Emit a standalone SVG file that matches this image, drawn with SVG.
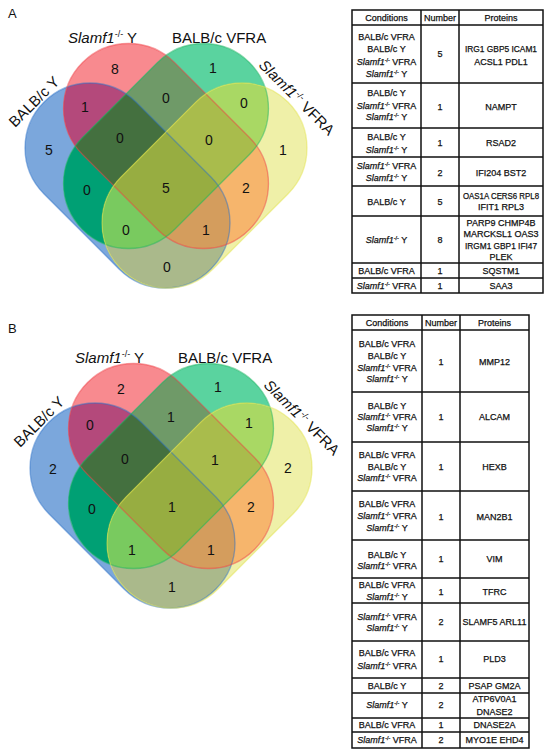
<svg xmlns="http://www.w3.org/2000/svg" xmlns:xlink="http://www.w3.org/1999/xlink" width="550" height="755" viewBox="0 0 550 755">
<style>
.t{font-family:"Liberation Sans",Arial,sans-serif;font-size:9px;text-anchor:middle;fill:#111;stroke:#111;stroke-width:0.25}
.i{font-style:italic}
.s{font-size:5.5px}
.n{font-family:"Liberation Sans",Arial,sans-serif;font-size:14px;text-anchor:middle;fill:#111}
.lb{font-family:"Liberation Sans",Arial,sans-serif;font-size:15px;fill:#111}
.vs{font-size:9px}
.pl{font-family:"Liberation Sans",Arial,sans-serif;font-size:13px;fill:#111}
.grid{fill:none;stroke:#111;stroke-width:1.5}
.ob{fill:none;stroke-width:1.3;stroke-opacity:0.5}
</style>
<defs>
<rect id="sB" x="-118" y="-65" width="236" height="130" rx="65" transform="translate(127.5,185.5) rotate(45)"/>
<rect id="sR" x="-118" y="-65" width="236" height="130" rx="65" transform="translate(166,146) rotate(45)"/>
<rect id="sG" x="-118" y="-65" width="236" height="130" rx="65" transform="translate(166,146) rotate(-45)"/>
<rect id="sY" x="-118" y="-65" width="236" height="130" rx="65" transform="translate(204.5,185.5) rotate(-45)"/>
<clipPath id="cB"><rect x="-118" y="-65" width="236" height="130" rx="65" transform="translate(127.5,185.5) rotate(45)"/></clipPath>
<clipPath id="cR"><rect x="-118" y="-65" width="236" height="130" rx="65" transform="translate(166,146) rotate(45)"/></clipPath>
<clipPath id="cG"><rect x="-118" y="-65" width="236" height="130" rx="65" transform="translate(166,146) rotate(-45)"/></clipPath>
<g id="venn">
<use xlink:href="#sB" fill="#7ba7dc"/>
<use xlink:href="#sR" fill="#f88a8f"/>
<use xlink:href="#sG" fill="#5ad39f"/>
<use xlink:href="#sY" fill="#eff0a8"/>
<g clip-path="url(#cB)"><use xlink:href="#sR" fill="#b4497b"/><use xlink:href="#sG" fill="#00a074"/><use xlink:href="#sY" fill="#aab98b"/></g>
<g clip-path="url(#cR)"><use xlink:href="#sG" fill="#6f9a68"/><use xlink:href="#sY" fill="#f6b56c"/></g>
<g clip-path="url(#cG)"><use xlink:href="#sY" fill="#a9d864"/></g>
<g clip-path="url(#cB)"><g clip-path="url(#cR)"><use xlink:href="#sG" fill="#44703f"/><use xlink:href="#sY" fill="#d49d5d"/></g><g clip-path="url(#cG)"><use xlink:href="#sY" fill="#79ca5f"/></g></g>
<g clip-path="url(#cR)"><g clip-path="url(#cG)"><use xlink:href="#sY" fill="#a9bc4c"/></g></g>
<g clip-path="url(#cB)"><g clip-path="url(#cR)"><g clip-path="url(#cG)"><use xlink:href="#sY" fill="#97ad41"/></g></g></g>
<use xlink:href="#sB" class="ob" stroke="#2a70c8"/>
<use xlink:href="#sR" class="ob" stroke="#ef3e44"/>
<use xlink:href="#sG" class="ob" stroke="#19b35f"/>
<use xlink:href="#sY" class="ob" stroke="#e3e34a"/>
</g>
</defs>

<g id="panel-a">
<text class="pl" x="8" y="18">A</text>
<use id="venn-a" xlink:href="#venn"/>
<g id="labels-a">
<text class="lb" x="68" y="43"><tspan class="i">Slamf1</tspan><tspan class="vs" dy="-6">-/-</tspan><tspan dy="6"> Y</tspan></text>
<text class="lb" x="172" y="43">BALB/c VFRA</text>
<text class="lb" transform="translate(15,128) rotate(-45)">BALB/c Y</text>
<text class="lb" transform="translate(258,66) rotate(45)"><tspan class="i">Slamf1</tspan><tspan class="vs" dy="-6">-/-</tspan><tspan dy="6"> VFRA</tspan></text>
</g>
<g id="counts-a">
<text class="n" x="115" y="74">8</text>
<text class="n" x="213" y="73">1</text>
<text class="n" x="85" y="112">1</text>
<text class="n" x="166" y="103">0</text>
<text class="n" x="244" y="108">0</text>
<text class="n" x="49" y="155">5</text>
<text class="n" x="120" y="143">0</text>
<text class="n" x="209" y="145">0</text>
<text class="n" x="283" y="155">1</text>
<text class="n" x="87" y="195">0</text>
<text class="n" x="166" y="193">5</text>
<text class="n" x="246" y="193">2</text>
<text class="n" x="126" y="235">0</text>
<text class="n" x="206" y="235">1</text>
<text class="n" x="167" y="272">0</text>
</g>
<g id="table-a">
<rect class="grid" x="352" y="10" width="191" height="283"/>
<path class="grid" d="M421,10V293M459,10V293M352,25H543M352,83H543M352,128H543M352,157H543M352,186H543M352,216H543M352,263H543M352,278H543"/>
<text class="t" x="386.5" y="21">Conditions</text>
<text class="t" x="440" y="21">Number</text>
<text class="t" x="501" y="21">Proteins</text>
<text class="t" x="386.5" y="40">BALB/c VFRA</text>
<text class="t" x="386.5" y="52">BALB/c Y</text>
<text class="t" x="386.5" y="65"><tspan class="i">Slamf1</tspan><tspan class="s" dy="-3.5">-/-</tspan><tspan dy="3.5"> VFRA</tspan></text>
<text class="t" x="386.5" y="77"><tspan class="i">Slamf1</tspan><tspan class="s" dy="-3.5">-/-</tspan><tspan dy="3.5"> Y</tspan></text>
<text class="t" x="440" y="57">5</text>
<text class="t" x="501" y="52" textLength="72" lengthAdjust="spacingAndGlyphs">IRG1 GBP5 ICAM1</text>
<text class="t" x="501" y="65">ACSL1 PDL1</text>
<text class="t" x="386.5" y="96">BALB/c Y</text>
<text class="t" x="386.5" y="109"><tspan class="i">Slamf1</tspan><tspan class="s" dy="-3.5">-/-</tspan><tspan dy="3.5"> VFRA</tspan></text>
<text class="t" x="386.5" y="120"><tspan class="i">Slamf1</tspan><tspan class="s" dy="-3.5">-/-</tspan><tspan dy="3.5"> Y</tspan></text>
<text class="t" x="440" y="110">1</text>
<text class="t" x="501" y="110">NAMPT</text>
<text class="t" x="386.5" y="140">BALB/c Y</text>
<text class="t" x="386.5" y="153"><tspan class="i">Slamf1</tspan><tspan class="s" dy="-3.5">-/-</tspan><tspan dy="3.5"> Y</tspan></text>
<text class="t" x="440" y="146">1</text>
<text class="t" x="501" y="146">RSAD2</text>
<text class="t" x="386.5" y="169"><tspan class="i">Slamf1</tspan><tspan class="s" dy="-3.5">-/-</tspan><tspan dy="3.5"> VFRA</tspan></text>
<text class="t" x="386.5" y="181"><tspan class="i">Slamf1</tspan><tspan class="s" dy="-3.5">-/-</tspan><tspan dy="3.5"> Y</tspan></text>
<text class="t" x="440" y="176">2</text>
<text class="t" x="501" y="176">IFI204 BST2</text>
<text class="t" x="386.5" y="205">BALB/c Y</text>
<text class="t" x="440" y="205">5</text>
<text class="t" x="501" y="199" textLength="76" lengthAdjust="spacingAndGlyphs">OAS1A CERS6 RPL8</text>
<text class="t" x="501" y="210">IFIT1 RPL3</text>
<text class="t" x="386.5" y="243"><tspan class="i">Slamf1</tspan><tspan class="s" dy="-3.5">-/-</tspan><tspan dy="3.5"> Y</tspan></text>
<text class="t" x="440" y="243">8</text>
<text class="t" x="501" y="226">PARP9 CHMP4B</text>
<text class="t" x="501" y="237">MARCKSL1 OAS3</text>
<text class="t" x="501" y="249" textLength="72" lengthAdjust="spacingAndGlyphs">IRGM1 GBP1 IFI47</text>
<text class="t" x="501" y="260">PLEK</text>
<text class="t" x="386.5" y="274">BALB/c VFRA</text>
<text class="t" x="440" y="274">1</text>
<text class="t" x="501" y="274">SQSTM1</text>
<text class="t" x="386.5" y="289"><tspan class="i">Slamf1</tspan><tspan class="s" dy="-3.5">-/-</tspan><tspan dy="3.5"> VFRA</tspan></text>
<text class="t" x="440" y="289">1</text>
<text class="t" x="501" y="289">SAA3</text>
</g>
</g>

<g id="panel-b">
<text class="pl" x="8" y="333">B</text>
<use id="venn-b" xlink:href="#venn" transform="translate(5,320)"/>
<g id="labels-b">
<text class="lb" x="75" y="363"><tspan class="i">Slamf1</tspan><tspan class="vs" dy="-6">-/-</tspan><tspan dy="6"> Y</tspan></text>
<text class="lb" x="178" y="363">BALB/c VFRA</text>
<text class="lb" transform="translate(20,448) rotate(-45)">BALB/c Y</text>
<text class="lb" transform="translate(263,386) rotate(45)"><tspan class="i">Slamf1</tspan><tspan class="vs" dy="-6">-/-</tspan><tspan dy="6"> VFRA</tspan></text>
</g>
<g id="counts-b">
<text class="n" x="121" y="394">2</text>
<text class="n" x="218" y="392">1</text>
<text class="n" x="90" y="430">0</text>
<text class="n" x="171" y="422">1</text>
<text class="n" x="249" y="428">1</text>
<text class="n" x="53" y="474">2</text>
<text class="n" x="125" y="464">0</text>
<text class="n" x="215" y="465">1</text>
<text class="n" x="288" y="473">2</text>
<text class="n" x="92" y="514">0</text>
<text class="n" x="172" y="512">1</text>
<text class="n" x="251" y="512">2</text>
<text class="n" x="132" y="555">1</text>
<text class="n" x="211" y="555">1</text>
<text class="n" x="172" y="592">1</text>
</g>
<g id="table-b">
<rect class="grid" x="352" y="315" width="177" height="433"/>
<path class="grid" d="M422,315V748M460,315V748M352,330H529M352,392H529M352,442H529M352,491H529M352,540H529M352,578H529M352,603H529M352,641H529M352,678H529M352,693H529M352,718H529M352,732H529"/>
<text class="t" x="387" y="326">Conditions</text>
<text class="t" x="441" y="326">Number</text>
<text class="t" x="494.5" y="326">Proteins</text>
<text class="t" x="387" y="347">BALB/c VFRA</text>
<text class="t" x="387" y="359">BALB/c Y</text>
<text class="t" x="387" y="371"><tspan class="i">Slamf1</tspan><tspan class="s" dy="-3.5">-/-</tspan><tspan dy="3.5"> VFRA</tspan></text>
<text class="t" x="387" y="382"><tspan class="i">Slamf1</tspan><tspan class="s" dy="-3.5">-/-</tspan><tspan dy="3.5"> Y</tspan></text>
<text class="t" x="441" y="365">1</text>
<text class="t" x="494.5" y="365">MMP12</text>
<text class="t" x="387" y="409">BALB/c Y</text>
<text class="t" x="387" y="420"><tspan class="i">Slamf1</tspan><tspan class="s" dy="-3.5">-/-</tspan><tspan dy="3.5"> VFRA</tspan></text>
<text class="t" x="387" y="431"><tspan class="i">Slamf1</tspan><tspan class="s" dy="-3.5">-/-</tspan><tspan dy="3.5"> Y</tspan></text>
<text class="t" x="441" y="420">1</text>
<text class="t" x="494.5" y="420">ALCAM</text>
<text class="t" x="387" y="458">BALB/c VFRA</text>
<text class="t" x="387" y="470">BALB/c Y</text>
<text class="t" x="387" y="481"><tspan class="i">Slamf1</tspan><tspan class="s" dy="-3.5">-/-</tspan><tspan dy="3.5"> VFRA</tspan></text>
<text class="t" x="441" y="470">1</text>
<text class="t" x="494.5" y="470">HEXB</text>
<text class="t" x="387" y="507">BALB/c VFRA</text>
<text class="t" x="387" y="519"><tspan class="i">Slamf1</tspan><tspan class="s" dy="-3.5">-/-</tspan><tspan dy="3.5"> VFRA</tspan></text>
<text class="t" x="387" y="531"><tspan class="i">Slamf1</tspan><tspan class="s" dy="-3.5">-/-</tspan><tspan dy="3.5"> Y</tspan></text>
<text class="t" x="441" y="520">1</text>
<text class="t" x="494.5" y="520">MAN2B1</text>
<text class="t" x="387" y="558">BALB/c Y</text>
<text class="t" x="387" y="569"><tspan class="i">Slamf1</tspan><tspan class="s" dy="-3.5">-/-</tspan><tspan dy="3.5"> VFRA</tspan></text>
<text class="t" x="441" y="562">1</text>
<text class="t" x="494.5" y="562">VIM</text>
<text class="t" x="387" y="588">BALB/c VFRA</text>
<text class="t" x="387" y="600"><tspan class="i">Slamf1</tspan><tspan class="s" dy="-3.5">-/-</tspan><tspan dy="3.5"> Y</tspan></text>
<text class="t" x="441" y="595">1</text>
<text class="t" x="494.5" y="595">TFRC</text>
<text class="t" x="387" y="620"><tspan class="i">Slamf1</tspan><tspan class="s" dy="-3.5">-/-</tspan><tspan dy="3.5"> VFRA</tspan></text>
<text class="t" x="387" y="631"><tspan class="i">Slamf1</tspan><tspan class="s" dy="-3.5">-/-</tspan><tspan dy="3.5"> Y</tspan></text>
<text class="t" x="441" y="625">2</text>
<text class="t" x="494.5" y="625">SLAMF5 ARL11</text>
<text class="t" x="387" y="656">BALB/c VFRA</text>
<text class="t" x="387" y="669"><tspan class="i">Slamf1</tspan><tspan class="s" dy="-3.5">-/-</tspan><tspan dy="3.5"> VFRA</tspan></text>
<text class="t" x="441" y="662">1</text>
<text class="t" x="494.5" y="662">PLD3</text>
<text class="t" x="387" y="689">BALB/c Y</text>
<text class="t" x="441" y="689">2</text>
<text class="t" x="494.5" y="689">PSAP GM2A</text>
<text class="t" x="387" y="708"><tspan class="i">Slamf1</tspan><tspan class="s" dy="-3.5">-/-</tspan><tspan dy="3.5"> Y</tspan></text>
<text class="t" x="441" y="708">2</text>
<text class="t" x="494.5" y="702">ATP6V0A1</text>
<text class="t" x="494.5" y="715">DNASE2</text>
<text class="t" x="387" y="728">BALB/c VFRA</text>
<text class="t" x="441" y="728">1</text>
<text class="t" x="494.5" y="728">DNASE2A</text>
<text class="t" x="387" y="743"><tspan class="i">Slamf1</tspan><tspan class="s" dy="-3.5">-/-</tspan><tspan dy="3.5"> VFRA</tspan></text>
<text class="t" x="441" y="743">2</text>
<text class="t" x="494.5" y="743">MYO1E EHD4</text>
</g>
</g>
</svg>
